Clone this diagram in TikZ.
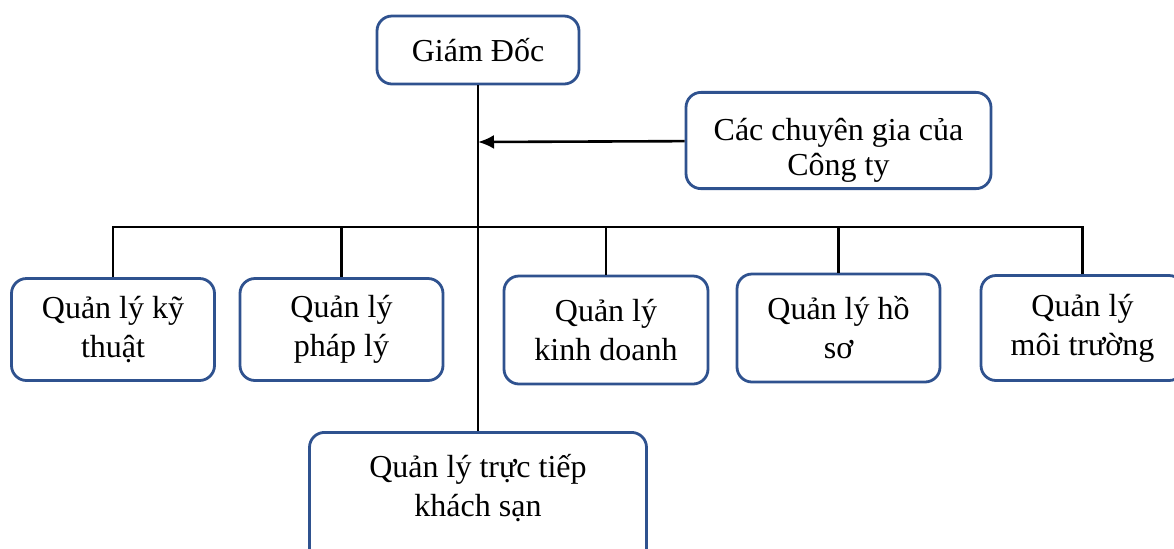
\documentclass[tikz,border=0pt]{standalone}
\usepackage{fontspec}
\setmainfont{Liberation Serif}
\usetikzlibrary{arrows.meta,positioning}
\definecolor{boxblue}{RGB}{47,82,143}
\tikzset{
	box/.style={draw=boxblue,line width=1.4pt,rounded corners=7.5pt,align=center,
		font=\fontsize{16}{19.5}\selectfont,minimum width=101.5pt,minimum height=51pt},
	conn/.style={draw,line width=1.3pt},
	->/.style={conn,-{Latex[length=8pt,width=7pt]}}
}

\begin{document}
\begin{tikzpicture}[x=0.5pt,y=-0.5pt]
            \useasboundingbox (0,0) rectangle (1174,548);
            \node[box,minimum width=152.5pt,minimum height=47.5pt] (cg) at (838.5,140.5)
                {\parbox[c][38pt][b]{140pt}{\centering Các chuyên gia của\\[-2pt]Công ty}};
            \node[box,minimum width=101pt,minimum height=34pt] (gd) at (478,50) {Giám Đốc};
            \node[box] (kt) at (113,329.5) {Quản lý kỹ\\thuật};
            \node[box] (pl) at (341.5,329.5) {Quản lý\\pháp lý};
            \node[box,minimum width=102pt,minimum height=54pt] (kd) at (606,330) {Quản lý\\kinh doanh};
            \node[box,minimum height=54pt] (hs) at (838.5,328) {Quản lý hồ\\sơ};
            \node[box,minimum height=52.5pt] (mt) at (1082.5,328) {Quản lý\\môi trường};
            \node[box,minimum width=168.5pt,anchor=north] (tt) at (478,431)
                {\parbox[c][66pt][t]{150pt}{\centering\vspace{7.5pt}Quản lý trực tiếp\\khách sạn}};
            \node[coordinate] (w) at (478,142) {};
            \node[coordinate] (bus) at (478,227) {};
            \draw[conn] (gd) -- (tt);
            \draw[->] (cg) -- (w);
            \draw[conn] (kt.north) |- (bus) -| (mt.north);
            \draw[conn] (pl.north) -- (pl.north |- bus);
            \draw[conn] (kd.north) -- (kd.north |- bus);
            \draw[conn] (hs.north) -- (hs.north |- bus);
        \end{tikzpicture}
\end{document}
